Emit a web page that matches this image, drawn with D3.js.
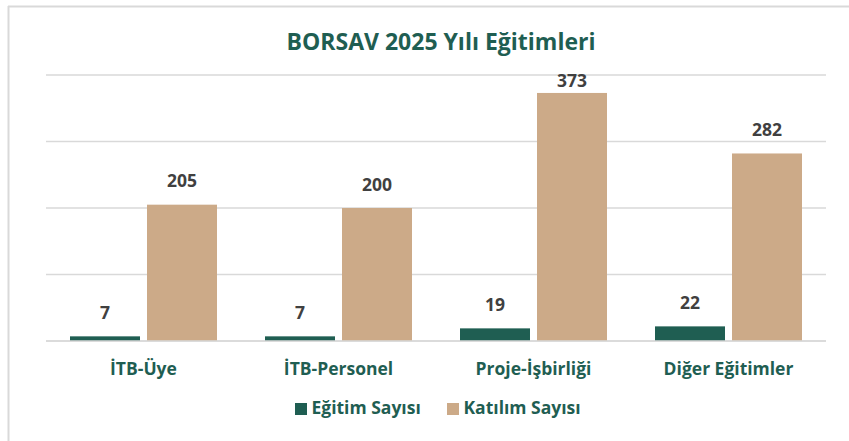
<!DOCTYPE html>
<html>
<head>
<meta charset="utf-8">
<script src="https://cdn.jsdelivr.net/npm/d3@7"></script>
<style>
  html, body { margin: 0; padding: 0; background: #fff; }
  svg { display: block; font-family: "Open Sans", sans-serif; }
</style>
</head>
<body>
<svg id="chart" width="849" height="441"></svg>
<script>
const title = "BORSAV 2025 Yılı Eğitimleri";
const categories = ["İTB-Üye", "İTB-Personel", "Proje-İşbirliği", "Diğer Eğitimler"];
const seriesNames = ["Eğitim Sayısı", "Katılım Sayısı"];
const egitimSayisi = [7, 7, 19, 22];
const katilimSayisi = [205, 200, 373, 282];
const yTicks = [0, 100, 200, 300, 400];

const seriesValues = [egitimSayisi, katilimSayisi];
const colors = ["#1F5E52", "#CCAA88"];
const green = "#1F5E52";

const svg = d3.select("#chart");

// frame
svg.append("line").attr("x1", 8).attr("x2", 849).attr("y1", 6.5).attr("y2", 6.5)
  .attr("stroke", "#d9d9d9").attr("stroke-width", 2);
svg.append("line").attr("x1", 8.5).attr("x2", 8.5).attr("y1", 6).attr("y2", 441)
  .attr("stroke", "#d9d9d9").attr("stroke-width", 2);

const plotLeft = 46, plotRight = 826, plotTop = 75, plotBottom = 341;

const x0 = d3.scaleBand().domain(categories).range([plotLeft, plotRight])
  .paddingInner(48 / 195).paddingOuter(24 / 195);
const x1 = d3.scaleBand().domain(seriesNames).range([0, x0.bandwidth()])
  .paddingInner(7 / 77);
const y = d3.scaleLinear().domain([0, 400]).range([plotBottom, plotTop]);

// gridlines
svg.append("g").selectAll("line").data(yTicks).join("line")
  .attr("x1", plotLeft).attr("x2", plotRight)
  .attr("y1", d => y(d)).attr("y2", d => y(d))
  .attr("stroke", "#d9d9d9").attr("stroke-width", 1.5);

// title
svg.append("text").attr("x", 441).attr("y", 50).attr("text-anchor", "middle")
  .attr("font-size", 23).attr("font-weight", 700).attr("fill", green)
  .text(title);

// bars
const groups = svg.append("g").selectAll("g").data(categories).join("g")
  .attr("transform", c => `translate(${x0(c)},0)`);

seriesNames.forEach((s, si) => {
  groups.append("rect")
    .attr("x", x1(s))
    .attr("width", x1.bandwidth())
    .attr("y", (c, i) => y(seriesValues[si][i]))
    .attr("height", (c, i) => y(0) - y(seriesValues[si][i]))
    .attr("fill", colors[si]);
  groups.append("text")
    .attr("x", x1(s) + x1.bandwidth() / 2)
    .attr("y", (c, i) => Math.max(y(seriesValues[si][i]) - 17.5, 86.7))
    .attr("text-anchor", "middle")
    .attr("font-size", 17.5).attr("font-weight", 700).attr("fill", "#404040")
    .text((c, i) => seriesValues[si][i]);
});

// baseline redraw on top
svg.append("line").attr("x1", plotLeft).attr("x2", plotRight)
  .attr("y1", y(0)).attr("y2", y(0))
  .attr("stroke", "#d9d9d9").attr("stroke-width", 1.5);

// category axis
const xAxis = d3.axisBottom(x0).tickSize(0).tickPadding(0);
const ax = svg.append("g").attr("transform", `translate(0,${plotBottom})`).call(xAxis);
ax.select(".domain").remove();
ax.selectAll("text")
  .attr("y", 34).attr("dy", null)
  .attr("font-size", 17.5).attr("font-weight", 700).attr("fill", green)
  .attr("font-family", "Open Sans, sans-serif");

// legend
const legendX = [295, 447];
const legend = svg.append("g");
seriesNames.forEach((s, i) => {
  legend.append("rect").attr("x", legendX[i]).attr("y", 403)
    .attr("width", 12).attr("height", 12).attr("fill", colors[i]);
  legend.append("text").attr("x", legendX[i] + 16.5).attr("y", 413.5)
    .attr("font-size", 17.5).attr("font-weight", 700).attr("fill", green)
    .text(s);
});
</script>
</body>
</html>
